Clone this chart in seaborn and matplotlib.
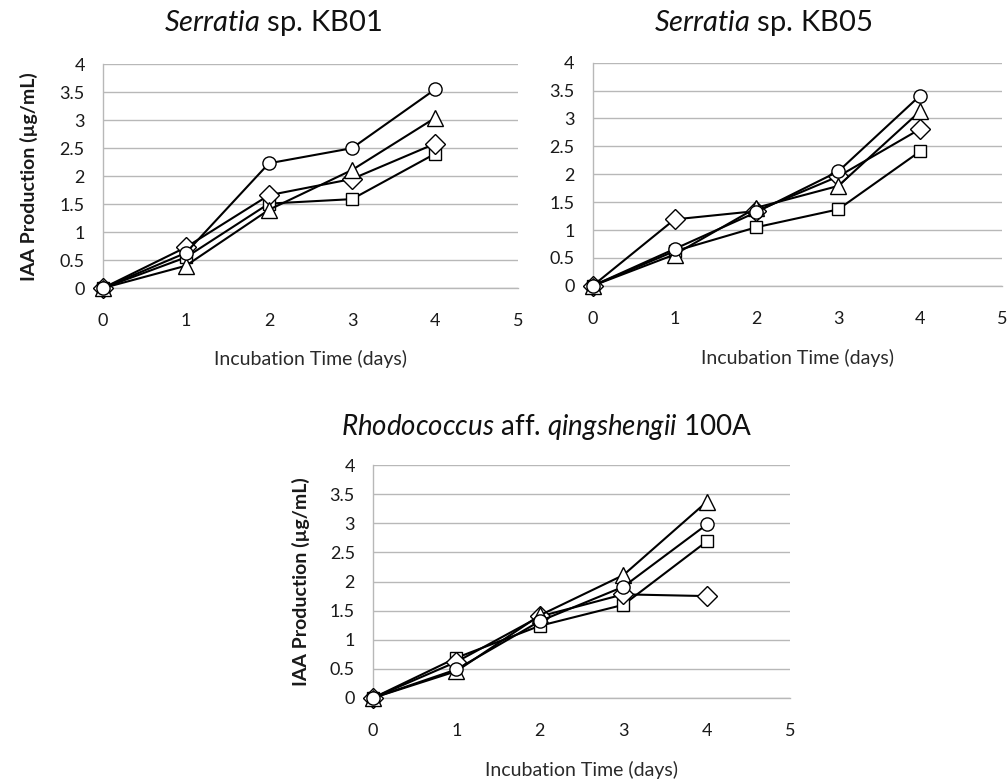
import matplotlib
matplotlib.use("Agg")
import matplotlib.pyplot as plt
import seaborn as sns
import pandas as pd

days = [0, 1, 2, 3, 4]
series_names = ["square", "diamond", "triangle", "circle"]

kb01_square = [0, 0.55, 1.51, 1.59, 2.40]
kb01_diamond = [0, 0.73, 1.66, 1.95, 2.58]
kb01_triangle = [0, 0.40, 1.40, 2.11, 3.04]
kb01_circle = [0, 0.63, 2.23, 2.50, 3.55]

kb05_square = [0, 0.62, 1.05, 1.37, 2.41]
kb05_diamond = [0, 1.19, 1.34, 1.96, 2.81]
kb05_triangle = [0, 0.56, 1.40, 1.79, 3.13]
kb05_circle = [0, 0.66, 1.32, 2.05, 3.41]

rh_square = [0, 0.69, 1.24, 1.60, 2.69]
rh_diamond = [0, 0.62, 1.40, 1.78, 1.75]
rh_triangle = [0, 0.46, 1.42, 2.11, 3.37]
rh_circle = [0, 0.49, 1.32, 1.91, 2.98]

titles = [r"$\it{Serratia}$ sp. KB01", r"$\it{Serratia}$ sp. KB05",
          r"$\it{Rhodococcus}$ aff. $\it{qingshengii}$ 100A"]
xlabel = "Incubation Time (days)"
ylabel = "IAA Production (µg/mL)"
x_ticks = [0, 1, 2, 3, 4, 5]
y_ticks = [0, 0.5, 1, 1.5, 2, 2.5, 3, 3.5, 4]
y_ticklabels = ["0", "0.5", "1", "1.5", "2", "2.5", "3", "3.5", "4"]

panels = [
    [kb01_square, kb01_diamond, kb01_triangle, kb01_circle],
    [kb05_square, kb05_diamond, kb05_triangle, kb05_circle],
    [rh_square, rh_diamond, rh_triangle, rh_circle],
]

sns.set_theme(style="white")
plt.rcParams["font.family"] = ["Lato", "DejaVu Sans"]
plt.rcParams["mathtext.fontset"] = "custom"
plt.rcParams["mathtext.it"] = "Lato:italic"
plt.rcParams["mathtext.rm"] = "Lato"

fig = plt.figure(figsize=(10.08, 7.83), dpi=100)
positions = [
    [0.102, 0.632, 0.412, 0.286],
    [0.588, 0.635, 0.406, 0.285],
    [0.370, 0.1086, 0.414, 0.2974],
]
title_pos = [(0.271, 0.971), (0.757, 0.971), (0.542, 0.4547)]
title_size = [21, 21, 20]
ylabel_x = [-0.157, None, -0.151]
xlabel_y = [-0.275, -0.285, -0.272]

marker_map = {"square": "s", "diamond": "D", "triangle": "^", "circle": "o"}
size_map = {"square": 8, "diamond": 10, "triangle": 11, "circle": 9.5}
grid_col = "#b8b8b8"
text_col = "#1a1a1a"

for i, (pos, vals) in enumerate(zip(positions, panels)):
    ax = fig.add_axes(pos)
    rows = []
    for name, v in zip(series_names, vals):
        for d, y in zip(days, v):
            rows.append({"day": d, "value": y, "series": name})
    df = pd.DataFrame(rows)
    for name in series_names:
        sub = df[df["series"] == name]
        sns.lineplot(data=sub, x="day", y="value", ax=ax, color="black",
                     linewidth=1.5, marker=marker_map[name],
                     markersize=size_map[name], markerfacecolor="white",
                     markeredgecolor="black", markeredgewidth=1.0,
                     legend=False, clip_on=False, zorder=3)
    ax.set_xlim(0, 5)
    ax.set_ylim(0, 4)
    ax.set_xticks(x_ticks)
    ax.set_yticks(y_ticks)
    ax.set_yticklabels(y_ticklabels)
    ax.yaxis.grid(True, color=grid_col, linewidth=1.0)
    ax.set_axisbelow(True)
    for s in ["top", "right"]:
        ax.spines[s].set_visible(False)
    ax.spines["left"].set_color(grid_col)
    ax.spines["bottom"].set_color(grid_col)
    ax.spines["left"].set_linewidth(1.0)
    ax.spines["bottom"].set_linewidth(1.0)
    ax.tick_params(axis="x", direction="out", length=5, width=1.0, color=grid_col,
                   labelsize=13, pad=13, labelcolor=text_col)
    ax.tick_params(axis="y", length=0, labelsize=13, pad=13, labelcolor=text_col)
    ax.set_xlabel(xlabel, fontsize=14, color="#2a2a2a")
    ax.xaxis.set_label_coords(0.5, xlabel_y[i])
    if ylabel_x[i] is None:
        ax.set_ylabel("")
    else:
        ax.set_ylabel(ylabel, fontsize=14, fontweight="bold", color=text_col)
        ax.yaxis.set_label_coords(ylabel_x[i], 0.5)
    fig.text(title_pos[i][0], title_pos[i][1], titles[i], fontsize=title_size[i],
             color="#111111", ha="center", va="center")

fig.savefig("out.png", dpi=100)
